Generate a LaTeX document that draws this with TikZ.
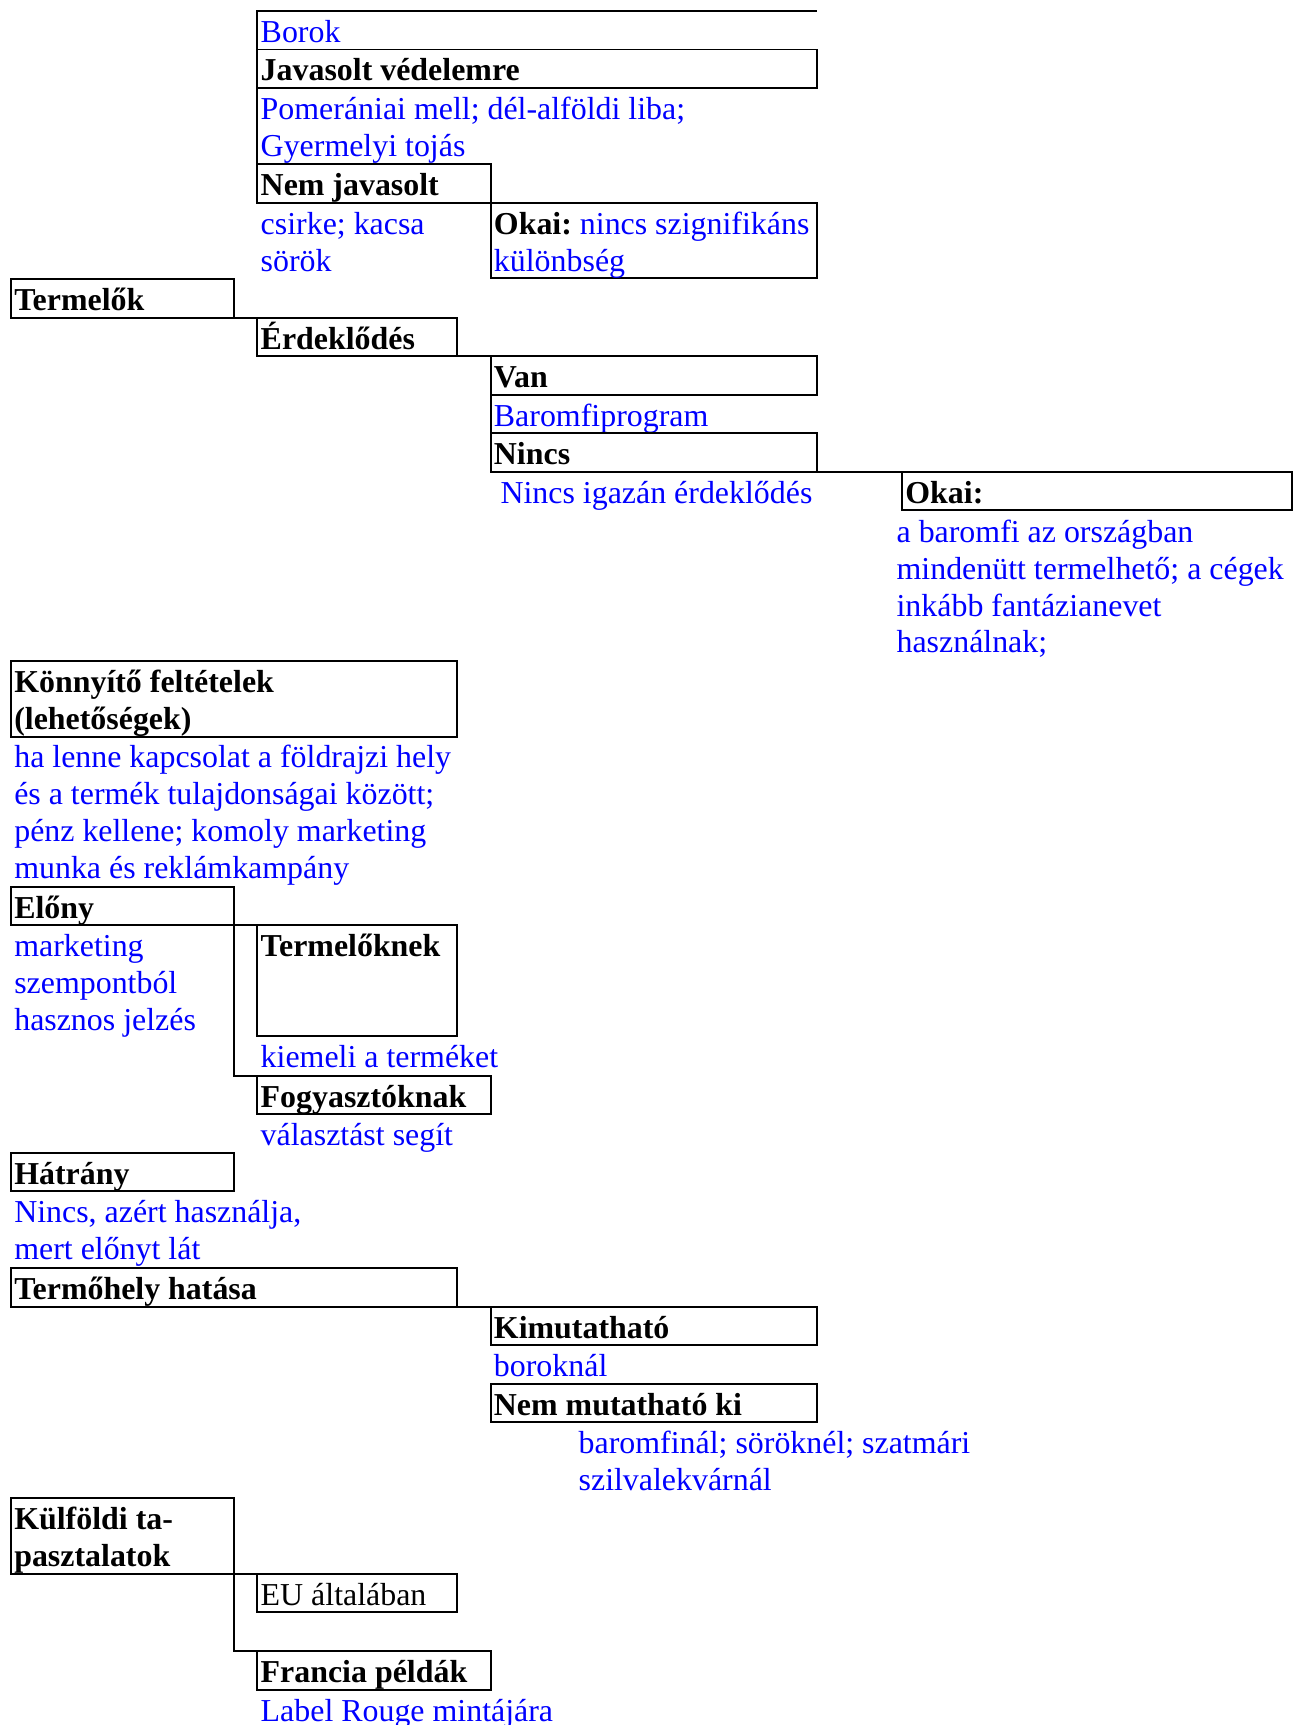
\documentclass[tikz,border=0pt]{standalone}
\usepackage{fontspec}
\setmainfont{Liberation Serif}
\newcommand\ff{\fontsize{14.5pt}{16.75pt}\selectfont\frenchspacing}
\newcommand\mytop{\rule{0pt}{14.25pt}}
\newcommand\mybot{\rule[-3.25pt]{0pt}{3.25pt}}
\tikzset{
  bx/.style={draw, line width=0.9pt, anchor=north west, inner xsep=1.5pt, inner ysep=0pt,
    outer sep=0pt, align=flush left, text width=#1, font=\ff},
  bb/.style={bx=#1, font=\ff\bfseries},
  tx/.style={anchor=north west, inner xsep=1.5pt, inner ysep=0pt, outer sep=0pt,
    align=left, text=blue, font=\ff},
  ln/.style={line width=0.9pt}
}
\begin{document}
\begin{tikzpicture}[x=0.5pt,y=-0.5pt]
\useasboundingbox (0,0) rectangle (1183,1568);
% ---- top group
\node[tx, align=flush left, text width=251.5pt] (borok) at (234,10) {\mytop Borok\mybot};
\node[bb=251.5pt] (jav) at (234,45) {\mytop Javasolt védelemre\mybot};
\node[tx] (pom) at (234,80) {\mytop Pomerániai mell; dél-alföldi liba;\\Gyermelyi tojás\mybot};
\node[bb=103pt] (nemjav) at (234,149.5) {\mytop Nem javasolt\mybot};
\node[tx] (csirke) at (234,184.5) {\mytop csirke; kacsa\\sörök\mybot};
\node[bx=145.5pt] (okai1) at (446,184.5) {\mytop\mbox{\textbf{Okai:} \textcolor{blue}{nincs szignifikáns}}\\\textcolor{blue}{különbség}\mybot};
% ---- Termelők
\node[bb=98.5pt] (term) at (10,254) {\mytop Termelők\mybot};
\node[bb=87.5pt] (erd) at (234,289) {\mytop Érdeklődés\mybot};
\node[bb=145.5pt] (van) at (446,324) {\mytop Van\mybot};
\node[tx] (barprog) at (446,359) {\mytop Baromfiprogram\mybot};
\node[bb=145.5pt] (nincs) at (446,394) {\mytop Nincs\mybot};
\node[tx] (nincsint) at (452,429) {\mytop Nincs igazán érdeklődés\mybot};
\node[bb=174pt] (okai2) at (820,429) {\mytop Okai:\mybot};
\node[tx] (reasons) at (812,464.5) {\mytop a baromfi az országban\\mindenütt termelhető; a cégek\\inkább fantázianevet\\használnak;\mybot};
% ---- Könnyítő feltételek
\node[bb=199.5pt] (konny) at (10,601) {\mytop Könnyítő feltételek\\(lehetőségek)\mybot};
\node[tx] (konnytext) at (10,669.5) {\mytop ha lenne kapcsolat a földrajzi hely\\és a termék tulajdonságai között;\\pénz kellene; komoly marketing\\munka és reklámkampány\mybot};
% ---- Előny
\node[bb=98.5pt] (elony) at (10,806) {\mytop Előny\mybot};
\node[tx] (elonytext) at (10,841) {\mytop marketing\\szempontból\\hasznos jelzés\mybot};
\node[bb=87.5pt] (termk) at (234,841) {\mytop Termelőknek\rule[-36.25pt]{0pt}{36.25pt}};
\node[tx] (kiemeli) at (234,942) {\mytop kiemeli a terméket\mybot};
\node[bb=103pt] (fogy) at (234,978) {\mytop Fogyasztóknak\mybot};
\node[tx] (valaszt) at (234,1013) {\mytop választást segít\mybot};
% ---- Hátrány
\node[bb=98.5pt] (hatrany) at (10,1048) {\mytop Hátrány\mybot};
\node[tx] (hatrtext) at (10,1083) {\mytop Nincs, azért használja,\\mert előnyt lát\mybot};
% ---- Termőhely hatása
\node[bb=199.5pt] (termhely) at (10,1153) {\mytop Termőhely hatása\mybot};
\node[bb=145.5pt] (kimut) at (446,1188) {\mytop Kimutatható\mybot};
\node[tx] (boroknal) at (446,1223) {\mytop boroknál\mybot};
\node[bb=145.5pt] (nemmut) at (446,1258) {\mytop Nem mutatható ki\mybot};
\node[tx] (baromfinal) at (523,1293) {\mytop baromfinál; söröknél; szatmári\\szilvalekvárnál\mybot};
% ---- Külföldi tapasztalatok
\node[bb=98.5pt] (kulf) at (10,1362) {\mytop Külföldi ta-\\pasztalatok\mybot};
\node[bx=87.5pt] (eu) at (234,1430.5) {\mytop EU általában\mybot};
\node[bb=103pt] (francia) at (234,1501) {\mytop Francia példák\mybot};
\node[tx] (labelr) at (234,1536) {\mytop Label Rouge mintájára\mybot};
% ---- connectors
\draw[ln] (borok.south west) -- (borok.north west) -- (borok.north east);
\draw[ln] (jav.south west) -- (nemjav.north west);
\draw[ln] (term.south east) -- (erd.north west);
\draw[ln] (erd.south east) -- (van.north west);
\draw[ln] (van.south west) -- (nincs.north west);
\draw[ln] (nincs.south east) -- (okai2.north west);
\draw[ln] (elony.south east) -- (termk.north west);
\draw[ln] (elony.south east) |- (fogy.north west);
\draw[ln] (termhely.south east) -- (kimut.north west);
\draw[ln] (kulf.south east) -- (eu.north west);
\draw[ln] (kulf.south east) |- (francia.north west);
\end{tikzpicture}
\end{document}
